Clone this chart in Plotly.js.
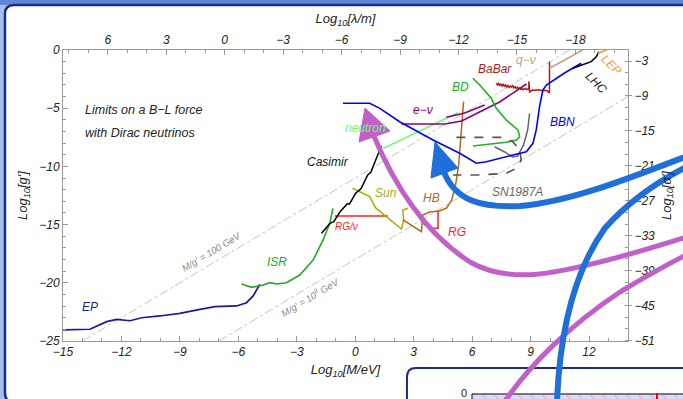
<!DOCTYPE html>
<html><head><meta charset="utf-8">
<script src="https://cdn.plot.ly/plotly-3.0.1.min.js"></script>
<style>html,body{margin:0;padding:0;background:#a9bfe8;}#c{width:683px;height:399px;}</style>
</head><body><div id="c"></div>
<script>
// ---- data (log10 M/eV , log10 g') ----
const epX = [-15,-13.62,-12.76,-12.25,-11.56,-10.96,-10.03,-9.0,-7.97,-7.2,-6.09,-5.58,-5.24,-4.98,-4.9];
const epY = [-24.05,-23.99,-23.34,-23.14,-23.26,-23.0,-22.85,-22.62,-22.28,-22.05,-21.99,-21.71,-21.13,-20.34,-20.13];
const isrX = [-5.84,-5.32,-4.73,-4.38,-4.04,-3.53,-2.85,-2.16,-1.65,-1.31,-1.14];
const isrY = [-20.1,-20.39,-20.19,-19.99,-20.1,-19.99,-19.33,-18.04,-16.32,-14.89,-13.6];
const casX = [-1.73,-1.3,-1.1,-0.79,-0.4,-0.3,0.03,0.3,0.64,0.8,1.05,1.34];
const casY = [-15.75,-14.9,-14.75,-13.92,-13.2,-13.25,-12.29,-11.9,-10.74,-10.5,-9.45,-8.25];
const rgnuX = [-1.05,1.68];
const rgnuY = [-14.26,-14.26];
const sunX = [-0.14,0.74,1.05,1.77,2.37,2.49,2.44,2.71];
const sunY = [-11.88,-12.6,-13.57,-14.6,-15.38,-14.6,-13.75,-13.6];
const hbX = [2.45,2.88,3.4,3.46,3.82,4.33,4.69,4.95,5.15,5.31,5.41,5.56];
const hbY = [-14.6,-15.03,-15.61,-14.18,-13.92,-13.83,-13.57,-12.89,-11.6,-9.88,-7.73,-4.44];
const rgX = [3.36,3.56,3.97,4.25,4.25];
const rgY = [-14.26,-15.03,-15.29,-15.32,-13.8];
const neuX = [1.43,5.27];
const neuY = [-8.45,-5.39];
const env1X = [2.37,4.59,5.46,6.38,7.41,8.79];
const env1Y = [-6.36,-6.36,-6.1,-5.33,-4.47,-2.92];
const env2X = [4.68,5.62,6.64];
const env2Y = [-5.78,-5.41,-4.73];
const bdX = [6.04,6.47,6.98,7.24,7.75,8.35,8.44,8.27,7.75,6.73,6.04];
const bdY = [-2.43,-3.15,-4.15,-5.01,-6.01,-6.87,-7.45,-7.73,-7.93,-8.16,-8.25];
const babarX = [7.24,7.3,7.36,7.42,7.48,7.54,7.6,7.66,7.72,7.78,7.84,7.9,7.96,8.02,8.08,8.14,8.2,8.26,8.32,8.38,8.44,8.5,8.56,8.62,8.68,8.74,8.8,8.86,8.91,8.91,8.95,9.1,9.25,9.4,9.55,9.7,9.85,9.97,9.97];
const babarY = [-2.85,-3.0,-2.88,-3.05,-2.92,-3.1,-2.96,-3.12,-3.0,-3.18,-3.05,-3.22,-3.1,-3.2,-3.08,-3.26,-3.15,-3.3,-3.2,-3.34,-3.25,-3.38,-3.3,-3.42,-3.34,-3.3,-3.4,-3.36,-3.4,-2.7,-3.6,-3.44,-3.46,-3.42,-3.48,-3.45,-3.5,-3.7,-1.0];
const qnuX = [9.97,11.68];
const qnuY = [-1.57,0];
const lhcX = [11.17,11.68,12.11,12.37,12.5];
const lhcY = [-1.57,-1.29,-1.0,-0.58,-0.15];
const lepX = [12.45,12.9];
const lepY = [-0.3,0];
const bbnX = [-0.63,0.74,1.26,2.28,3.99,5.36,6.22,6.73,8.09,8.78,9.12,9.29,9.46,9.63,9.81,10.74,11.6];
const bbnY = [-4.58,-4.58,-5.01,-6.16,-7.73,-8.87,-9.73,-9.6,-9.02,-8.74,-8.02,-6.87,-4.87,-3.44,-3.01,-1.98,-1.14];
const snDashX = [5.19,7.58,8.09,8.44,8.52,8.27,7.75,6.38,5.02];
const snDashY = [-7.5,-7.5,-7.88,-8.59,-9.45,-10.16,-10.59,-10.74,-10.74];
const snSolidX = [7.15,7.67,8.08,8.33,8.64,8.85,8.95];
const snSolidY = [-8.31,-8.76,-9.19,-9.11,-8.16,-6.87,-5.44];
const m100X = [-14,11];
const m100Y = [-25,0];
const m1e9X = [-7,14];
const m1e9Y = [-25,-4];
// tick labels
const xTicks = [-15,-12,-9,-6,-3,0,3,6,9,12];
const lamTicks = [6,3,0,-3,-6,-9,-12,-15,-18];
const gTicks = [0,-5,-10,-15,-20,-25];
const alphaTicks = [-3,-9,-15,-21,-27,-33,-39,-45,-51];

function ln(x,y,color,w,dash){return {type:'scatter',mode:'lines',x:x,y:y,line:{color:color,width:w||1.6,dash:dash||'solid'},hoverinfo:'skip',showlegend:false};}
const traces = [
  ln(m100X,m100Y,'#c4c4c4',1,'dashdot'),
  ln(m1e9X,m1e9Y,'#c4c4c4',1,'dashdot'),
  ln(epX,epY,'#1a1a9e',1.7),
  ln(isrX,isrY,'#22aa22',1.6),
  ln(rgnuX,rgnuY,'#ff2020',1.5),
  ln(sunX,sunY,'#b3aa00',1.5),
  ln(hbX,hbY,'#b8661a',1.5),
  ln(rgX,rgY,'#ff2020',1.5),
  ln(casX,casY,'#000000',1.5),
  ln(neuX,neuY,'#66ff66',1.6),
  ln(env1X,env1Y,'#880088',1.6),
  ln(env2X,env2Y,'#880088',1.6),
  ln(bdX,bdY,'#22b022',1.6),
  ln(snDashX,snDashY,'#555555',1.7,'dash'),
  ln(snSolidX,snSolidY,'#666666',1.5),
  ln(babarX,babarY,'#b01818',1.5),
  ln(qnuX,qnuY,'#c8a480',1.6),
  ln(bbnX,bbnY,'#0000ff',1.6),
  ln(lhcX,lhcY,'#000000',1.6),
  ln(lepX,lepY,'#ff9933',1.8),
  {type:'scatter',x:[null],y:[null],xaxis:'x2',yaxis:'y2',hoverinfo:'skip',showlegend:false}
];

const FF = 'Liberation Sans, Arial, sans-serif';
const tf = {family:FF,size:12,color:'#222',style:'italic'};
function lab(t,x,y,c,opt){return Object.assign({text:t,x:x,y:y,xref:'x',yref:'y',showarrow:false,font:{family:FF,size:12,color:c,style:'italic'}},opt||{});}
const annotations = [
  lab('Limits on a B\u2212L force',-13.97,-5.15,'#222',{xanchor:'left',font:{family:FF,size:12.5,color:'#222',style:'italic'}}),
  lab('with Dirac neutrinos',-13.97,-7.13,'#222',{xanchor:'left',font:{family:FF,size:12.5,color:'#222',style:'italic'}}),
  lab('EP',-13.6,-22.1,'#1a1aa8'),
  lab('ISR',-4.03,-18.2,'#22aa22'),
  lab('Casimir',-1.41,-9.62,'#111'),
  lab('RG/\u03bd',-0.44,-15.2,'#ff2020',{font:{family:FF,size:10,color:'#ff2020',style:'italic'}}),
  lab('Sun',1.56,-12.3,'#b3aa00'),
  lab('HB',3.92,-12.7,'#b8661a'),
  lab('RG',5.2,-15.6,'#ff2020'),
  lab('neutron',0.55,-6.7,'#66ff66'),
  lab('e\u2212\u03bd',3.46,-5.15,'#880088'),
  lab('BD',5.41,-3.18,'#22b022'),
  lab('BaBar',7.15,-1.63,'#b01818'),
  lab('q\u2212\u03bd',8.79,-0.86,'#c8a480'),
  lab('LHC',12.38,-2.84,'#111',{textangle:45}),
  lab('LEP',13.15,-1.29,'#ff9933',{textangle:45}),
  lab('BBN',10.64,-6.19,'#0000ff'),
  lab('SN1987A',8.33,-12.2,'#666'),
  lab("M/g' = 100 GeV",-7.36,-17.35,'#888',{textangle:-31,font:{family:FF,size:9.5,color:'#888',style:'italic'}}),
  lab("M/g' = 10<sup>9</sup> GeV",-2.33,-21.2,'#888',{textangle:-31,font:{family:FF,size:9.5,color:'#888',style:'italic'}})
];

// ---- decorative overlay (pixel -> paper) ----
function P(x,y){return ((x-63)/565).toFixed(4)+','+((341-y)/291).toFixed(4);}
function rr(x0,y0,x1,y1,r){return 'M'+P(x0+r,y0)+' L'+P(x1-r,y0)+' Q'+P(x1,y0)+' '+P(x1,y0+r)+' L'+P(x1,y1-r)+' Q'+P(x1,y1)+' '+P(x1-r,y1)+' L'+P(x0+r,y1)+' Q'+P(x0,y1)+' '+P(x0,y1-r)+' L'+P(x0,y0+r)+' Q'+P(x0,y0)+' '+P(x0+r,y0)+' Z';}
function sh(path,lc,lw,fill,layer){return {type:'path',xref:'paper',yref:'paper',path:path,line:{color:lc,width:lw},fillcolor:fill||'rgba(0,0,0,0)',layer:layer||'above'};}
const shapes = [
  sh('M'+P(0,0)+' L'+P(683,0)+' L'+P(683,5)+' L'+P(0,5)+' Z','rgba(0,0,0,0)',0,'#6187d4','below'),
  sh(rr(5,5,730,402,9),'#1c2a8c',2.5,'#ffffff','below'),
  sh(rr(407,368,730,440,9),'#1c2a8c',2,'#ffffff','above'),
  sh('M'+P(472,394)+' L'+P(700,394)+' L'+P(700,420)+' L'+P(472,420)+' Z','#000',1,'#dcdaf5','above')
];
for(let hx=470;hx<690;hx+=12){shapes.push(sh('M'+P(hx,394.5)+' L'+P(hx+6,400.5),'#f08080',0.7,null,'above'));}
shapes.push(sh('M'+P(657,393)+' L'+P(657,400),'#ff0000',2,null,'above'));
// purple arrows
shapes.push(sh('M'+P(505,401)+' C'+P(530,365)+' '+P(570,325)+' '+P(620,292)+' C'+P(645,277)+' '+P(670,263)+' '+P(690,253),'#c060c8',5));
shapes.push(sh('M'+P(373,134)+' C'+P(390,175)+' '+P(420,230)+' '+P(470,262)+' C'+P(510,285)+' '+P(560,272)+' '+P(600,262)+' C'+P(640,252)+' '+P(670,242)+' '+P(690,236),'#c060c8',5));
shapes.push(sh('M'+P(365,108)+' L'+P(390,131)+' L'+P(359,142)+' Z','#c060c8',1,'#c060c8'));
// blue arrows
shapes.push(sh('M'+P(444,172)+' C'+P(455,200)+' '+P(480,208)+' '+P(520,206)+' C'+P(570,202)+' '+P(630,178)+' '+P(690,155),'#1e6fd9',6));
shapes.push(sh('M'+P(557,401)+' C'+P(560,330)+' '+P(575,270)+' '+P(605,228)+' C'+P(630,200)+' '+P(660,180)+' '+P(690,165),'#1e6fd9',6));
shapes.push(sh('M'+P(435,142)+' L'+P(458,168)+' L'+P(431,178)+' Z','#1e6fd9',1,'#1e6fd9'));
annotations.push({text:'0',xref:'paper',yref:'paper',x:(469-63)/565,y:(341-393)/291,xanchor:'right',yanchor:'middle',showarrow:false,font:{family:FF,size:11,color:'#222'}});

const axBase = {showgrid:false,zeroline:false,showline:true,linecolor:'#999',linewidth:1,tickcolor:'#999',tickfont:tf};
const layout = {
  width:683,height:399,
  margin:{l:63,r:55,t:50,b:58},
  paper_bgcolor:'#a9bfe8',plot_bgcolor:'#ffffff',
  showlegend:false,
  xaxis:Object.assign({},axBase,{range:[-15,14],tickmode:'array',tickvals:xTicks,ticks:'inside',ticklen:5,minor:{ticks:'inside',ticklen:3,dtick:1,tick0:0,tickcolor:'#999'},title:{text:'Log<sub>10</sub>[M/eV]',font:{family:FF,size:13,color:'#222',style:'italic'},standoff:6}}),
  xaxis2:Object.assign({},axBase,{overlaying:'x',side:'top',range:[8.3,-20.7],tickmode:'array',tickvals:lamTicks,ticks:'inside',ticklen:5,minor:{ticks:'inside',ticklen:3,dtick:1,tick0:0,tickcolor:'#999'},title:{text:'Log<sub>10</sub>[\u03bb/m]',font:{family:FF,size:13,color:'#222',style:'italic'},standoff:6}}),
  yaxis:Object.assign({},axBase,{range:[-25,0],tickmode:'array',tickvals:gTicks,ticks:'inside',ticklen:5,minor:{ticks:'inside',ticklen:3,dtick:1,tick0:0,tickcolor:'#999'},title:{text:"Log<sub>10</sub>[g']",font:{family:FF,size:13,color:'#222',style:'italic'},standoff:8}}),
  yaxis2:Object.assign({},axBase,{overlaying:'y',side:'right',range:[-51.1,-1.1],tickmode:'array',tickvals:alphaTicks,ticks:'outside',ticklen:3,minor:{ticks:'inside',ticklen:3,dtick:2,tick0:-1,tickcolor:'#999'},title:{text:"Log<sub>10</sub>[\u03b1']",font:{family:FF,size:13,color:'#222',style:'italic'},standoff:6}}),
  annotations:annotations,
  shapes:shapes
};
Plotly.newPlot('c',traces,layout,{staticPlot:true,displayModeBar:false});
</script></body></html>
